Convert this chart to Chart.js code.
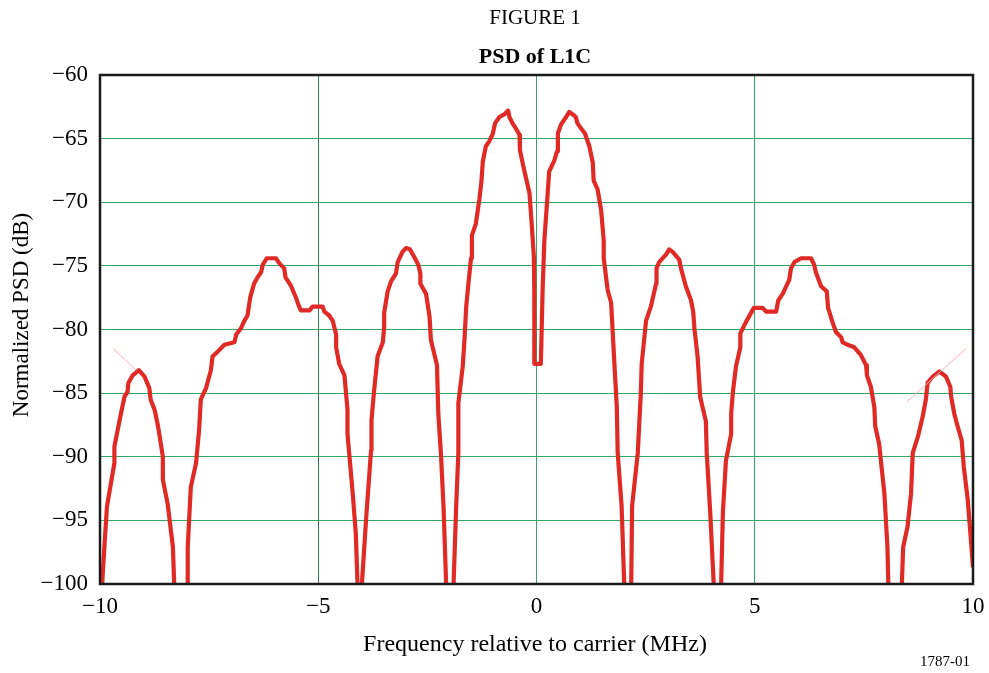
<!DOCTYPE html>
<html><head><meta charset="utf-8">
<script src="https://cdn.jsdelivr.net/npm/chart.js@4.4.1/dist/chart.umd.min.js"></script>
<style>html,body{margin:0;padding:0;background:#fff;}#wrap{position:relative;width:989px;height:673px;}</style>
</head><body><div id="wrap"><canvas id="c" width="989" height="673"></canvas></div>
<script>
// Tick values
const xTicks = [-10, -5, 0, 5, 10];
const yTicks = [-100, -95, -90, -85, -80, -75, -70, -65, -60];

// PSD of L1C: one lobe per pair of arrays (MHz, dB)
const lobe1F  = [-9.95,-9.90,-9.84,-9.67,-9.67,-9.52,-9.44,-9.37,-9.35,-9.25,-9.11,-8.98,-8.87,-8.84,-8.75,-8.67,-8.56,-8.56,-8.45,-8.33,-8.30];
const lobe1Db = [-100,-97.1,-93.9,-90.5,-89.2,-86.6,-85.3,-84.9,-84.2,-83.6,-83.2,-83.7,-84.6,-85.5,-86.3,-87.6,-90.0,-91.8,-93.7,-97.1,-100];

const lobe2F  = [-7.99,-7.99,-7.92,-7.80,-7.73,-7.69,-7.57,-7.46,-7.42,-7.32,-7.15,-6.92,-6.88,-6.77,-6.69,-6.62,-6.56,-6.47,-6.39,-6.31,-6.27,-6.18,-5.97,-5.89,-5.78,-5.75,-5.62,-5.51,-5.45,-5.40,-5.20,-5.13,-4.90,-4.86,-4.75,-4.67,-4.59,-4.59,-4.52,-4.40,-4.33,-4.33,-4.21,-4.14,-4.10];
const lobe2Db = [-100,-97.1,-92.4,-90.5,-87.9,-85.5,-84.6,-83.2,-82.1,-81.8,-81.2,-81.0,-80.4,-79.9,-79.3,-78.9,-77.5,-76.4,-75.9,-75.5,-74.9,-74.4,-74.4,-74.8,-75.2,-75.9,-76.6,-77.5,-78.1,-78.5,-78.5,-78.2,-78.2,-78.6,-78.9,-79.3,-80.4,-81.4,-82.7,-83.6,-86.3,-88.2,-92.9,-96.0,-100];

const lobe3F  = [-4.00,-3.90,-3.79,-3.78,-3.72,-3.64,-3.52,-3.49,-3.49,-3.41,-3.33,-3.22,-3.18,-3.07,-2.99,-2.90,-2.80,-2.71,-2.66,-2.66,-2.53,-2.45,-2.42,-2.28,-2.25,-2.19,-2.13,-2.07];
const lobe3Db = [-100,-94.7,-89.5,-87.1,-84.8,-82.1,-81.0,-79.8,-78.7,-77.0,-76.2,-75.6,-74.7,-73.9,-73.6,-73.7,-74.3,-74.9,-75.6,-76.4,-77.2,-79.0,-80.8,-82.8,-86.6,-89.7,-93.9,-100];

const mainF  = [-1.90,-1.84,-1.79,-1.79,-1.69,-1.65,-1.61,-1.56,-1.50,-1.48,-1.39,-1.31,-1.26,-1.23,-1.16,-1.08,-1.00,-0.95,-0.85,-0.74,-0.65,-0.62,-0.55,-0.49,-0.39,-0.38,-0.28,-0.16,-0.11,-0.06,-0.05,-0.05,0.10,0.14,0.18,0.24,0.29,0.41,0.47,0.49,0.56,0.68,0.75,0.83,0.90,0.94,1.00,1.11,1.21,1.29,1.31,1.40,1.48,1.54,1.54,1.63,1.71,1.78,1.84,1.86,1.95,2.01];
const mainDb = [-100,-93.9,-89.7,-85.8,-82.9,-80.8,-78.2,-76.4,-74.4,-72.6,-71.7,-69.8,-68.3,-66.8,-65.6,-65.2,-64.6,-63.8,-63.3,-63.1,-62.8,-63.3,-63.8,-64.1,-64.7,-65.9,-67.5,-69.3,-71.7,-74.3,-76.9,-82.7,-82.7,-76.9,-73.0,-70.1,-67.6,-66.7,-66.0,-64.6,-63.9,-63.3,-62.9,-63.1,-63.3,-63.8,-64.1,-64.6,-65.6,-66.9,-68.3,-69.0,-70.6,-73.0,-74.4,-76.9,-77.9,-82.4,-86.1,-89.7,-93.9,-100];

const lobe5F  = [2.17,2.19,2.32,2.39,2.41,2.51,2.62,2.74,2.75,2.81,2.97,3.04,3.12,3.27,3.31,3.42,3.54,3.59,3.62,3.69,3.75,3.88,3.90,3.98,4.06];
const lobe5Db = [-100,-93.9,-89.7,-85.0,-82.7,-79.3,-78.2,-76.4,-75.2,-74.7,-74.1,-73.7,-73.9,-74.5,-75.2,-76.6,-77.7,-78.6,-80.0,-82.1,-85.3,-87.2,-89.7,-94.4,-100];

const lobe6F  = [4.23,4.27,4.30,4.34,4.46,4.46,4.50,4.57,4.67,4.67,4.80,4.98,5.18,5.26,5.49,5.54,5.64,5.79,5.83,5.91,6.06,6.29,6.36,6.40,6.52,6.65,6.68,6.78,6.86,6.98,7.01,7.13,7.28,7.43,7.55,7.57,7.66,7.74,7.76,7.85,7.97,8.04,8.06];
const lobe6Db = [-100,-94.4,-92.6,-90.3,-88.2,-86.6,-84.9,-82.9,-81.4,-80.3,-79.4,-78.3,-78.3,-78.6,-78.6,-77.7,-77.2,-76.1,-75.2,-74.7,-74.4,-74.4,-74.9,-75.5,-76.6,-77.0,-78.3,-79.4,-80.2,-80.6,-81.0,-81.2,-81.4,-82.0,-82.8,-83.6,-84.5,-86.1,-87.6,-89.0,-92.9,-97.1,-100];

const lobe7F  = [8.37,8.40,8.50,8.58,8.62,8.74,8.85,8.92,8.96,9.08,9.23,9.38,9.48,9.50,9.57,9.64,9.74,9.79,9.88,9.94,10.0];
const lobe7Db = [-100,-97.1,-95.5,-92.9,-89.7,-88.4,-86.8,-85.5,-84.2,-83.7,-83.3,-83.7,-84.5,-85.3,-86.6,-87.5,-88.7,-90.8,-93.4,-96.0,-98.7];

// faint pink marker strokes seen in the figure
const markLeftF  = [-9.70, -9.17];
const markLeftDb = [-81.5, -83.2];
const markRightF  = [8.48, 9.84];
const markRightDb = [-85.7, -81.5];

const curveF  = [lobe1F, lobe2F, lobe3F, mainF, lobe5F, lobe6F, lobe7F];
const curveDb = [lobe1Db, lobe2Db, lobe3Db, mainDb, lobe5Db, lobe6Db, lobe7Db];

const pts = (fs, ds) => fs.map((f, i) => ({x: f, y: ds[i]}));
const minus = v => (v < 0 ? '\u2212' + Math.abs(v) : String(v));
const SERIF = '"Liberation Serif", "DejaVu Serif", serif';

const datasets = [
  {data: pts(markLeftF, markLeftDb), borderColor: '#f4b4b4', borderWidth: 1},
  {data: pts(markRightF, markRightDb), borderColor: '#f4b4b4', borderWidth: 1}
].concat(curveF.map((fs, i) => ({
  data: pts(fs, curveDb[i]), borderColor: '#e02a26', borderWidth: 4.2,
  borderJoinStyle: 'round', borderCapStyle: 'butt'
}))).map(d => Object.assign({showLine: true, pointRadius: 0, tension: 0, fill: false, clip: 0}, d));

const framePlugin = {
  id: 'frameText',
  afterDatasetsDraw(chart) {
    const {ctx, chartArea: a} = chart;
    ctx.save();
    ctx.strokeStyle = '#1a1a1a';
    ctx.lineWidth = 2.5;
    ctx.strokeRect(a.left, a.top, a.right - a.left, a.bottom - a.top);
    ctx.restore();
  },
  afterDraw(chart) {
    const {ctx, chartArea: a} = chart;
    const cx = 535;
    ctx.save();
    ctx.fillStyle = '#000';
    ctx.textAlign = 'center';
    ctx.textBaseline = 'middle';
    ctx.font = '21px ' + SERIF;
    ctx.fillText('FIGURE 1', cx, 18);
    ctx.font = 'bold 22px ' + SERIF;
    ctx.fillText('PSD of L1C', cx, 57);
    ctx.font = '24px ' + SERIF;
    ctx.fillText('Frequency relative to carrier (MHz)', cx, 645);
    ctx.font = '15px ' + SERIF;
    ctx.textAlign = 'right';
    ctx.fillText('1787-01', 970, 662);
    ctx.translate(22, 315);
    ctx.rotate(-Math.PI / 2);
    ctx.textAlign = 'center';
    ctx.font = '23px ' + SERIF;
    ctx.fillText('Normalized PSD (dB)', 0, 0);
    ctx.restore();
  }
};

new Chart(document.getElementById('c'), {
  type: 'scatter',
  data: {datasets},
  options: {
    responsive: false, animation: false, devicePixelRatio: 1,
    layout: {padding: {top: 75, right: 16, left: 0, bottom: 0}},
    plugins: {legend: {display: false}, tooltip: {enabled: false}, title: {display: false}},
    scales: {
      x: {
        type: 'linear', min: -10, max: 10,
        afterBuildTicks: s => { s.ticks = xTicks.map(v => ({value: v})); },
        afterFit: s => { s.height = 89; s.paddingLeft = 0; s.paddingRight = 0; },
        grid: {color: c => (c.tick && c.tick.value === -5 ? '#2f7a52' : '#33a865'), lineWidth: 1, drawTicks: false},
        border: {display: false},
        ticks: {padding: 9, color: '#000', font: {family: SERIF, size: 23}, maxRotation: 0, autoSkip: false, callback: v => minus(v)}
      },
      y: {
        type: 'linear', min: -100, max: -60,
        afterBuildTicks: s => { s.ticks = yTicks.map(v => ({value: v})); },
        afterFit: s => { s.width = 100; s.paddingTop = 0; s.paddingBottom = 0; },
        grid: {color: '#33a865', lineWidth: 1, drawTicks: false},
        border: {display: false},
        ticks: {padding: 12, color: '#000', font: {family: SERIF, size: 23}, autoSkip: false, callback: v => minus(v)}
      }
    }
  },
  plugins: [framePlugin]
});
</script></body></html>
